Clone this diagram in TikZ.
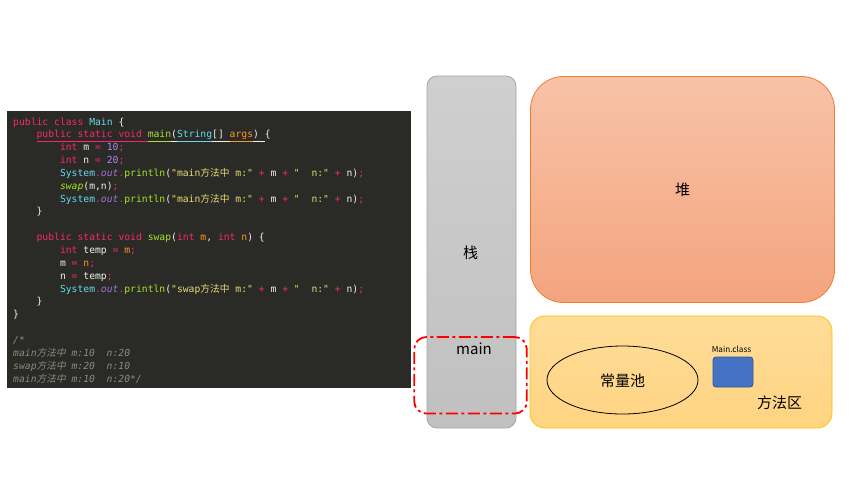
\documentclass[tikz,border=0pt]{standalone}
\usepackage{fontspec}
\setmainfont{Liberation Sans}
\newfontfamily\codefont{DejaVu Sans Mono}
\newfontfamily\cjk{Noto Sans CJK SC}
\newfontfamily\cjkit[FakeSlant=0.2]{Noto Sans CJK SC}
\usetikzlibrary{shapes.geometric}
\definecolor{codebg}{HTML}{2A2A26}
\definecolor{codewh}{HTML}{F0F0EA}
\definecolor{ckwc}{HTML}{F92672}
\definecolor{ccyc}{HTML}{66D9EF}
\definecolor{cgrc}{HTML}{A6E22E}
\definecolor{cpuc}{HTML}{AE81FF}
\definecolor{cyec}{HTML}{E6DB74}
\definecolor{corc}{HTML}{FD971F}
\definecolor{coutc}{HTML}{A56FE0}
\definecolor{ccmc}{HTML}{8A8A82}
\definecolor{stacktop}{HTML}{CFCFCF}
\definecolor{stackbot}{HTML}{C0C0C0}
\definecolor{stackbd}{HTML}{A5A5A5}
\definecolor{heaptop}{HTML}{F8C2A7}
\definecolor{heapbot}{HTML}{F4A47E}
\definecolor{heapbd}{HTML}{ED7D31}
\definecolor{methtop}{HTML}{FFDC98}
\definecolor{methbot}{HTML}{FFD482}
\definecolor{methbd}{HTML}{FFC000}
\definecolor{bluefill}{HTML}{4472C4}
\definecolor{bluebd}{HTML}{2F5597}
\newcommand\ckw[1]{\textcolor{ckwc}{#1}}
\newcommand\ccy[1]{\textcolor{ccyc}{#1}}
\newcommand\cgr[1]{\textcolor{cgrc}{#1}}
\newcommand\cpu[1]{\textcolor{cpuc}{#1}}
\newcommand\cye[1]{\textcolor{cyec}{#1}}
\newcommand\cor[1]{\textcolor{corc}{#1}}
\newcommand\cout[1]{\textcolor{coutc}{\itshape #1}}
\newcommand\uln[1]{\underline{#1\vphantom{p}}}
\begin{document}
\begin{tikzpicture}[x=1pt,y=-1pt,
  code/.style={anchor=base west, inner sep=0pt, font=\codefont\fontsize{9.72}{11}\selectfont, text=codewh},
  cmt/.style={code, text=ccmc, font=\codefont\itshape\fontsize{9.72}{11}\selectfont},
  lbl/.style={inner sep=0pt, font=\cjk\fontsize{15}{18}\selectfont, text=black}]
\useasboundingbox (0,0) rectangle (853,480);
% code panel
\node[fill=codebg, inner sep=0pt, minimum width=404pt, minimum height=277pt] (panel) at (209,249.5) {};
\node[code] (c1) at (13,125) {\ckw{public class} \ccy{Main} \{};
\node[code] (c2) at (36.4,137.85) {\ckw{\uln{public static void }}\cgr{\uln{main}}\uln{(}\ccy{\uln{String}}\uln{[] }\cor{\uln{args}}\uln{) }\{};
\node[code] (c3) at (59.8,150.7) {\ckw{int} m \ckw{=} \cpu{10}\ckw{;}};
\node[code] (c4) at (59.8,163.55) {\ckw{int} n \ckw{=} \cpu{20}\ckw{;}};
\node[code] (c5) at (59.8,176.4) {\ccy{System}\ckw{.}\cout{out}\ckw{.}\cgr{println}(\cye{"main{\cjk 方法中} m:"} \ckw{+} m \ckw{+} \cye{"~~n:"} \ckw{+} n)\ckw{;}};
\node[code] (c6) at (59.8,189.25) {\cgr{\itshape swap}(m,n)\ckw{;}};
\node[code] (c7) at (59.8,202.1) {\ccy{System}\ckw{.}\cout{out}\ckw{.}\cgr{println}(\cye{"main{\cjk 方法中} m:"} \ckw{+} m \ckw{+} \cye{"~~n:"} \ckw{+} n)\ckw{;}};
\node[code] (c8) at (36.4,214.95) {\}};
\node[code] (c10) at (36.4,240.65) {\ckw{public static void} \cgr{swap}(\ckw{int} \cor{m}, \ckw{int} \cor{n}) \{};
\node[code] (c11) at (59.8,253.5) {\ckw{int} temp \ckw{=} \cor{m}\ckw{;}};
\node[code] (c12) at (59.8,266.35) {m \ckw{=} \cor{n}\ckw{;}};
\node[code] (c13) at (59.8,279.2) {n \ckw{=} temp\ckw{;}};
\node[code] (c14) at (59.8,292.05) {\ccy{System}\ckw{.}\cout{out}\ckw{.}\cgr{println}(\cye{"swap{\cjk 方法中} m:"} \ckw{+} m \ckw{+} \cye{"~~n:"} \ckw{+} n)\ckw{;}};
\node[code] (c15) at (36.4,304.9) {\}};
\node[code] (c16) at (13,317.75) {\}};
\node[cmt] (c18) at (13,343.45) {/*};
\node[cmt] (c19) at (13,356.3) {main{\cjkit 方法中} m:10~~n:20};
\node[cmt] (c20) at (13,369.15) {swap{\cjkit 方法中} m:20~~n:10};
\node[cmt] (c21) at (13,382) {main{\cjkit 方法中} m:10~~n:20*/};
% stack
\node[draw=stackbd, line width=0.8pt, top color=stacktop, bottom color=stackbot, rounded corners=10pt, inner sep=0pt, minimum width=89pt, minimum height=352pt] (stack) at (471.5,252) {};
\node[lbl] (stacklbl) at (470.5,252.5) {栈};
% heap
\node[draw=heapbd, line width=0.8pt, top color=heaptop, bottom color=heapbot, rounded corners=33pt, inner sep=0pt, minimum width=304pt, minimum height=226pt] (heap) at (682.5,189.5) {};
\node[lbl] (heaplbl) at (682.5,190) {堆};
% method area
\node[draw=methbd, line width=0.8pt, top color=methtop, bottom color=methbot, rounded corners=15pt, inner sep=0pt, minimum width=302pt, minimum height=112pt] (meth) at (681,372) {};
\node[lbl] (methlbl) at (779.7,403) {方法区};
\node[ellipse, draw=black, line width=0.8pt, inner sep=0pt, minimum width=151pt, minimum height=68pt] (pool) at (622.5,380) {};
\node[lbl] (poollbl) at (622.5,381) {常量池};
\node[draw=bluebd, fill=bluefill, line width=0.8pt, rounded corners=3pt, inner sep=0pt, minimum width=40pt, minimum height=30pt] (cls) at (733,372) {};
\node[inner sep=0pt, font=\cjk\fontsize{8.2}{10}\selectfont] (clslbl) at (731.5,349) {Main.class};
% main frame
\node[draw=red, line width=1.8pt, dash pattern=on 12pt off 3.5pt on 3pt off 3.5pt, rounded corners=12pt, inner sep=0pt, minimum width=112.5pt, minimum height=76.5pt] (frame) at (470.5,375.3) {};
\node[anchor=base, inner sep=0pt, font=\cjk\fontsize{15}{18}\selectfont] (framelbl) at (474,354) {main};
\end{tikzpicture}
\end{document}
